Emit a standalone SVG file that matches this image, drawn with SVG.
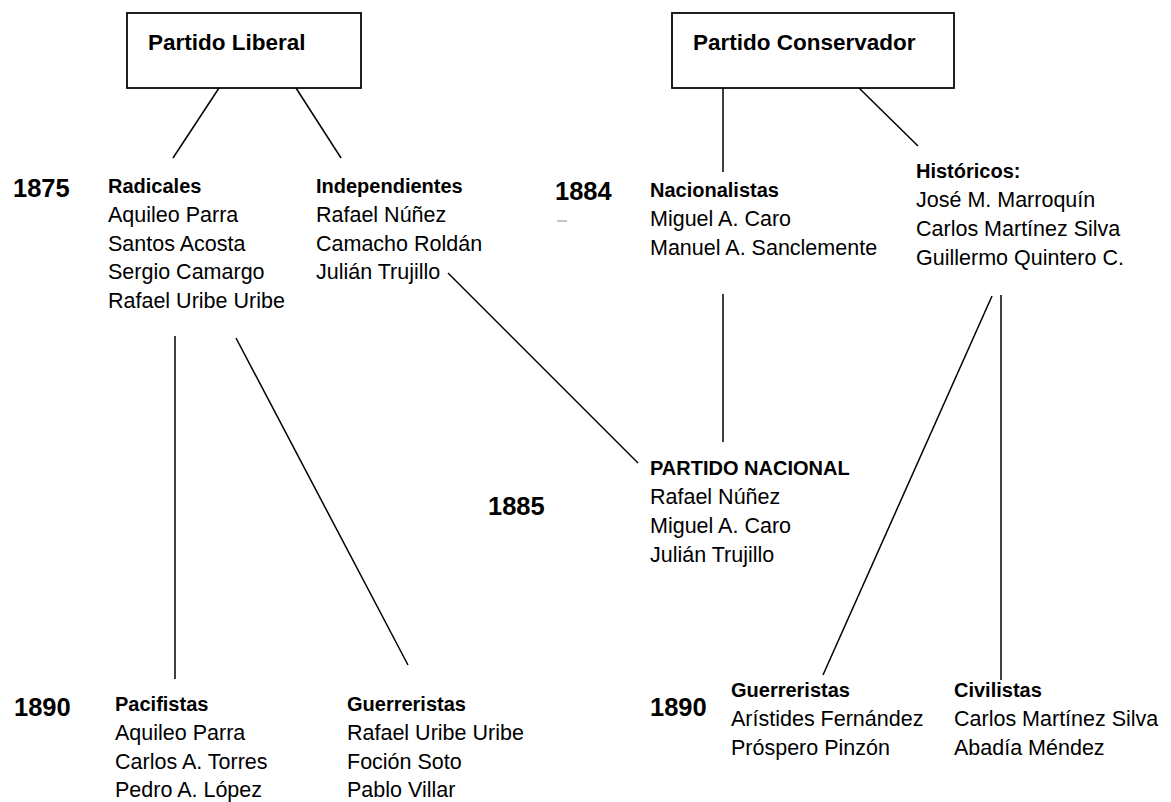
<svg xmlns="http://www.w3.org/2000/svg" width="1171" height="802" viewBox="0 0 1171 802">
<style>
.t{font-family:"Liberation Sans",Arial,sans-serif;font-size:21.5px;fill:#000}
.h{font-family:"Liberation Sans",Arial,sans-serif;font-size:20px;font-weight:bold;fill:#000}
.y{font-family:"Liberation Sans",Arial,sans-serif;font-size:25.5px;font-weight:bold;fill:#000}
.bt{font-family:"Liberation Sans",Arial,sans-serif;font-size:22.5px;font-weight:bold;fill:#000}
.box{fill:#fff;stroke:#000;stroke-width:1.75}
.ln{stroke:#000;stroke-width:1.5;fill:none}
</style>
<rect width="1171" height="802" fill="#fff"/>
<g id="connectors">
<line class="ln" x1="219" y1="88" x2="173" y2="158"/>
<line class="ln" x1="296" y1="88" x2="341" y2="158"/>
<line class="ln" x1="723" y1="88" x2="723" y2="172"/>
<line class="ln" x1="859" y1="88" x2="918" y2="146"/>
<line class="ln" x1="448" y1="273" x2="638" y2="463"/>
<line class="ln" x1="723" y1="294" x2="723" y2="442"/>
<line class="ln" x1="175" y1="336" x2="175" y2="679"/>
<line class="ln" x1="236" y1="338" x2="408" y2="665"/>
<line class="ln" x1="992" y1="296" x2="823" y2="675"/>
<line class="ln" x1="1001" y1="295" x2="1001" y2="680"/>
</g>
<g id="partido-liberal">
<rect class="box" x="127" y="13" width="234" height="75"/>
<text class="bt" x="148" y="50">Partido Liberal</text>
</g>
<g id="partido-conservador">
<rect class="box" x="672" y="13" width="282" height="75"/>
<text class="bt" x="693" y="50">Partido Conservador</text>
</g>
<g id="year-1875"><text class="y" x="13" y="197">1875</text></g>
<g id="radicales">
<text class="h" x="108" y="193">Radicales</text>
<text class="t" x="108" y="222">Aquileo Parra</text>
<text class="t" x="108" y="250.5">Santos Acosta</text>
<text class="t" x="108" y="279">Sergio Camargo</text>
<text class="t" x="108" y="308">Rafael Uribe Uribe</text>
</g>
<g id="independientes">
<text class="h" x="316" y="193">Independientes</text>
<text class="t" x="316" y="222">Rafael Núñez</text>
<text class="t" x="316" y="250.5">Camacho Roldán</text>
<text class="t" x="316" y="279">Julián Trujillo</text>
</g>
<g id="year-1884">
<text class="y" x="555" y="200">1884</text>
<line x1="557" y1="221" x2="567" y2="221" stroke="#888" stroke-width="1"/>
</g>
<g id="nacionalistas">
<text class="h" x="650" y="197">Nacionalistas</text>
<text class="t" x="650" y="226">Miguel A. Caro</text>
<text class="t" x="650" y="255">Manuel A. Sanclemente</text>
</g>
<g id="historicos">
<text class="h" x="916" y="178">Históricos:</text>
<text class="t" x="916" y="207">José M. Marroquín</text>
<text class="t" x="916" y="236">Carlos Martínez Silva</text>
<text class="t" x="916" y="265">Guillermo Quintero C.</text>
</g>
<g id="year-1885"><text class="y" x="488" y="515">1885</text></g>
<g id="partido-nacional">
<text class="h" x="650" y="475">PARTIDO NACIONAL</text>
<text class="t" x="650" y="504">Rafael Núñez</text>
<text class="t" x="650" y="533">Miguel A. Caro</text>
<text class="t" x="650" y="562">Julián Trujillo</text>
</g>
<g id="year-1890-liberal"><text class="y" x="14" y="716">1890</text></g>
<g id="pacifistas">
<text class="h" x="115" y="711">Pacifistas</text>
<text class="t" x="115" y="740">Aquileo Parra</text>
<text class="t" x="115" y="768.5">Carlos A. Torres</text>
<text class="t" x="115" y="797">Pedro A. López</text>
</g>
<g id="guerreristas-liberal">
<text class="h" x="347" y="711">Guerreristas</text>
<text class="t" x="347" y="740">Rafael Uribe Uribe</text>
<text class="t" x="347" y="768.5">Foción Soto</text>
<text class="t" x="347" y="797">Pablo Villar</text>
</g>
<g id="year-1890-conservador"><text class="y" x="650" y="716">1890</text></g>
<g id="guerreristas-conservador">
<text class="h" x="731" y="697">Guerreristas</text>
<text class="t" x="731" y="726">Arístides Fernández</text>
<text class="t" x="731" y="755">Próspero Pinzón</text>
</g>
<g id="civilistas">
<text class="h" x="954" y="697">Civilistas</text>
<text class="t" x="954" y="726">Carlos Martínez Silva</text>
<text class="t" x="954" y="755">Abadía Méndez</text>
</g>
</svg>
